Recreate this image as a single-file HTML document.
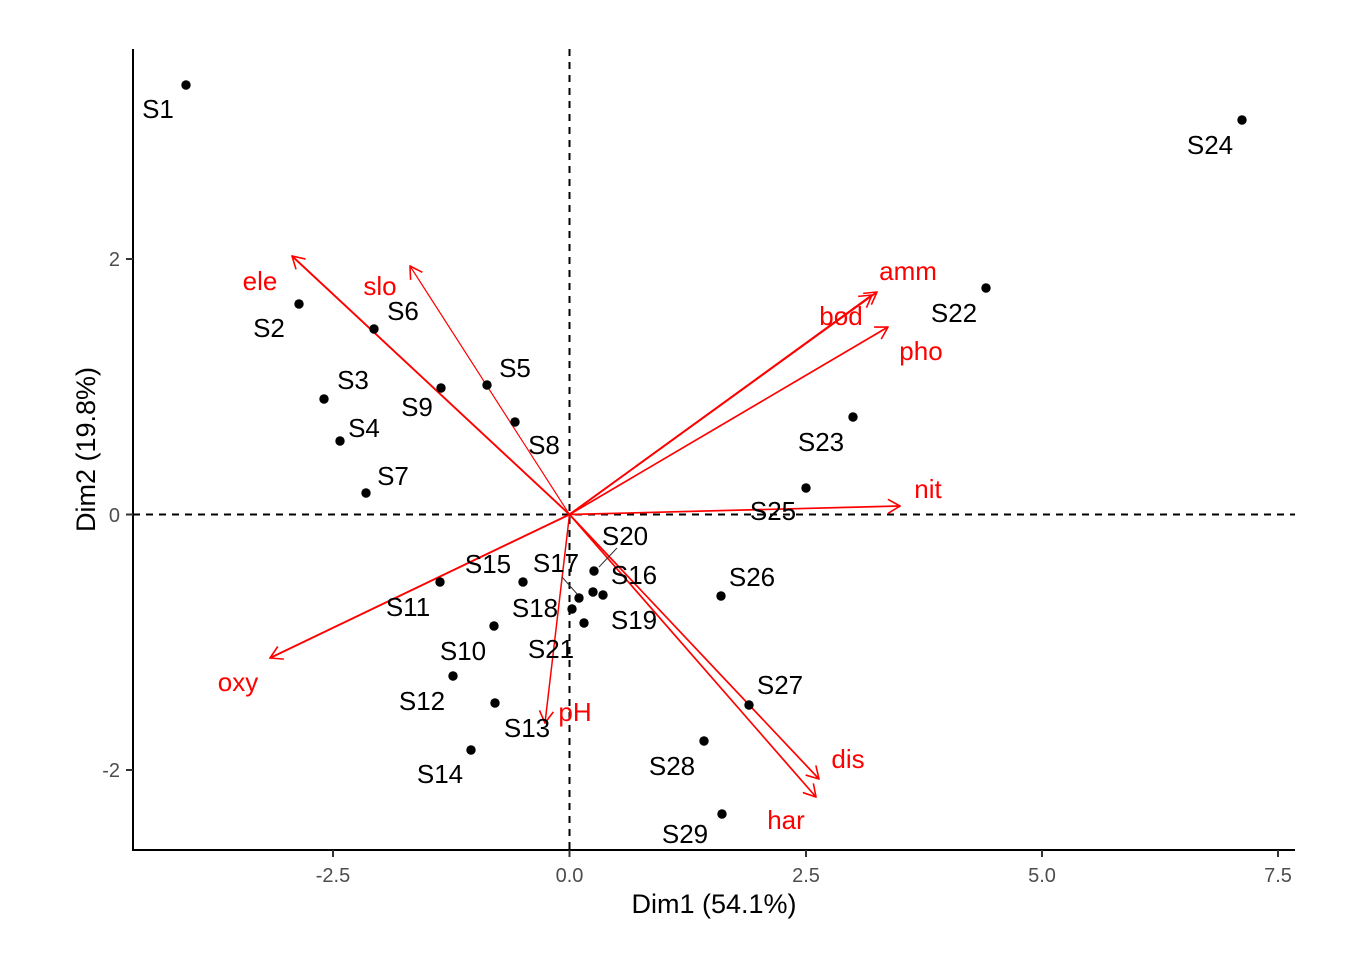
<!DOCTYPE html>
<html>
<head>
<meta charset="utf-8">
<style>
  html, body { margin: 0; padding: 0; background: #ffffff; }
  svg { display: block; }
  text { font-family: "Liberation Sans", Arial, sans-serif; }
  .lab { font-size: 26px; fill: #000000; text-anchor: middle; }
  .var { font-size: 26px; fill: #ff0000; text-anchor: middle; }
  .tick { font-size: 20px; fill: #4d4d4d; }
  .title { font-size: 27px; fill: #000000; text-anchor: middle; }
</style>
</head>
<body>
<svg width="1358" height="970" viewBox="0 0 1358 970" xmlns="http://www.w3.org/2000/svg">
  <defs>
    <marker id="ah" viewBox="0 0 14 16" refX="13" refY="8" markerWidth="14" markerHeight="16" markerUnits="userSpaceOnUse" orient="auto">
      <path d="M1,1 L13,8 L1,15" fill="none" stroke="#ff0000" stroke-width="1.6"/>
    </marker>
  </defs>
  <rect x="0" y="0" width="1358" height="970" fill="#ffffff"/>

  <!-- dashed reference lines -->
  <line x1="569.5" y1="49" x2="569.5" y2="850" stroke="#000" stroke-width="2" stroke-dasharray="7,6"/>
  <line x1="133" y1="514.5" x2="1295" y2="514.5" stroke="#000" stroke-width="2" stroke-dasharray="7,6"/>

  <!-- axes -->
  <line x1="133" y1="49" x2="133" y2="851" stroke="#000" stroke-width="2"/>
  <line x1="132" y1="850" x2="1295" y2="850" stroke="#000" stroke-width="2"/>

  <!-- ticks -->
  <g stroke="#333" stroke-width="2">
    <line x1="333" y1="850" x2="333" y2="857"/>
    <line x1="569.5" y1="850" x2="569.5" y2="857"/>
    <line x1="806" y1="850" x2="806" y2="857"/>
    <line x1="1042" y1="850" x2="1042" y2="857"/>
    <line x1="1278" y1="850" x2="1278" y2="857"/>
    <line x1="126" y1="259" x2="133" y2="259"/>
    <line x1="126" y1="514.5" x2="133" y2="514.5"/>
    <line x1="126" y1="770" x2="133" y2="770"/>
  </g>
  <g class="tick">
    <text x="333" y="882" text-anchor="middle">-2.5</text>
    <text x="569.5" y="882" text-anchor="middle">0.0</text>
    <text x="806" y="882" text-anchor="middle">2.5</text>
    <text x="1042" y="882" text-anchor="middle">5.0</text>
    <text x="1278" y="882" text-anchor="middle">7.5</text>
  </g>
  <g class="tick">
    <text x="120" y="266" text-anchor="end">2</text>
    <text x="120" y="522" text-anchor="end">0</text>
    <text x="120" y="777" text-anchor="end">-2</text>
  </g>

  <!-- axis titles -->
  <text class="title" x="714" y="913">Dim1 (54.1%)</text>
  <text class="title" x="0" y="0" transform="translate(95,449.5) rotate(-90)">Dim2 (19.8%)</text>

  <!-- arrows -->
  <g stroke="#ff0000" fill="none" marker-end="url(#ah)">
    <line x1="569.5" y1="514.5" x2="292" y2="256" stroke-width="1.9"/>
    <line x1="569.5" y1="514.5" x2="410" y2="266" stroke-width="1.2"/>
    <line x1="569.5" y1="514.5" x2="877" y2="292" stroke-width="1.9"/>
    <line x1="569.5" y1="514.5" x2="872" y2="295" stroke-width="1.7"/>
    <line x1="569.5" y1="514.5" x2="888" y2="327" stroke-width="1.7"/>
    <line x1="569.5" y1="514.5" x2="900" y2="506" stroke-width="1.7"/>
    <line x1="569.5" y1="514.5" x2="270" y2="658" stroke-width="1.9"/>
    <line x1="569.5" y1="514.5" x2="545" y2="723" stroke-width="1.5"/>
    <line x1="569.5" y1="514.5" x2="819" y2="779" stroke-width="1.7"/>
    <line x1="569.5" y1="514.5" x2="816" y2="797" stroke-width="1.7"/>
  </g>

  <!-- connector segments -->
  <line x1="562" y1="577" x2="578" y2="595" stroke="#333" stroke-width="1"/>
  <line x1="617" y1="548" x2="599" y2="567" stroke="#333" stroke-width="1"/>

  <!-- points -->
  <g fill="#000">
    <circle cx="186" cy="85" r="4.7"/>
    <circle cx="299" cy="304" r="4.7"/>
    <circle cx="324" cy="399" r="4.7"/>
    <circle cx="340" cy="441" r="4.7"/>
    <circle cx="487" cy="385" r="4.7"/>
    <circle cx="374" cy="329" r="4.7"/>
    <circle cx="366" cy="493" r="4.7"/>
    <circle cx="515" cy="422" r="4.7"/>
    <circle cx="441" cy="388" r="4.7"/>
    <circle cx="494" cy="626" r="4.7"/>
    <circle cx="440" cy="582" r="4.7"/>
    <circle cx="453" cy="676" r="4.7"/>
    <circle cx="495" cy="703" r="4.7"/>
    <circle cx="471" cy="750" r="4.7"/>
    <circle cx="523" cy="582" r="4.7"/>
    <circle cx="603" cy="595" r="4.7"/>
    <circle cx="579" cy="598" r="4.7"/>
    <circle cx="572" cy="609" r="4.7"/>
    <circle cx="584" cy="623" r="4.7"/>
    <circle cx="594" cy="571" r="4.7"/>
    <circle cx="593" cy="592" r="4.7"/>
    <circle cx="986" cy="288" r="4.7"/>
    <circle cx="853" cy="417" r="4.7"/>
    <circle cx="1242" cy="120" r="4.7"/>
    <circle cx="806" cy="488" r="4.7"/>
    <circle cx="721" cy="596" r="4.7"/>
    <circle cx="749" cy="705" r="4.7"/>
    <circle cx="704" cy="741" r="4.7"/>
    <circle cx="722" cy="814" r="4.7"/>
  </g>

  <!-- point labels -->
  <g class="lab">
    <text x="158" y="118">S1</text>
    <text x="269" y="337">S2</text>
    <text x="353" y="389">S3</text>
    <text x="364" y="437">S4</text>
    <text x="515" y="377">S5</text>
    <text x="403" y="320">S6</text>
    <text x="393" y="485">S7</text>
    <text x="544" y="454">S8</text>
    <text x="417" y="416">S9</text>
    <text x="463" y="660">S10</text>
    <text x="408" y="616">S11</text>
    <text x="422" y="710">S12</text>
    <text x="527" y="737">S13</text>
    <text x="440" y="783">S14</text>
    <text x="488" y="573">S15</text>
    <text x="634" y="584">S16</text>
    <text x="556" y="572">S17</text>
    <text x="535" y="617">S18</text>
    <text x="634" y="629">S19</text>
    <text x="625" y="545">S20</text>
    <text x="551" y="658">S21</text>
    <text x="954" y="322">S22</text>
    <text x="821" y="451">S23</text>
    <text x="1210" y="154">S24</text>
    <text x="773" y="520">S25</text>
    <text x="752" y="586">S26</text>
    <text x="780" y="694">S27</text>
    <text x="672" y="775">S28</text>
    <text x="685" y="843">S29</text>
  </g>

  <!-- variable labels -->
  <g class="var">
    <text x="260" y="290">ele</text>
    <text x="380" y="295">slo</text>
    <text x="908" y="280">amm</text>
    <text x="841" y="325">bod</text>
    <text x="921" y="360">pho</text>
    <text x="928" y="498">nit</text>
    <text x="238" y="691">oxy</text>
    <text x="575" y="721">pH</text>
    <text x="848" y="768">dis</text>
    <text x="786" y="829">har</text>
  </g>
</svg>
</body>
</html>
